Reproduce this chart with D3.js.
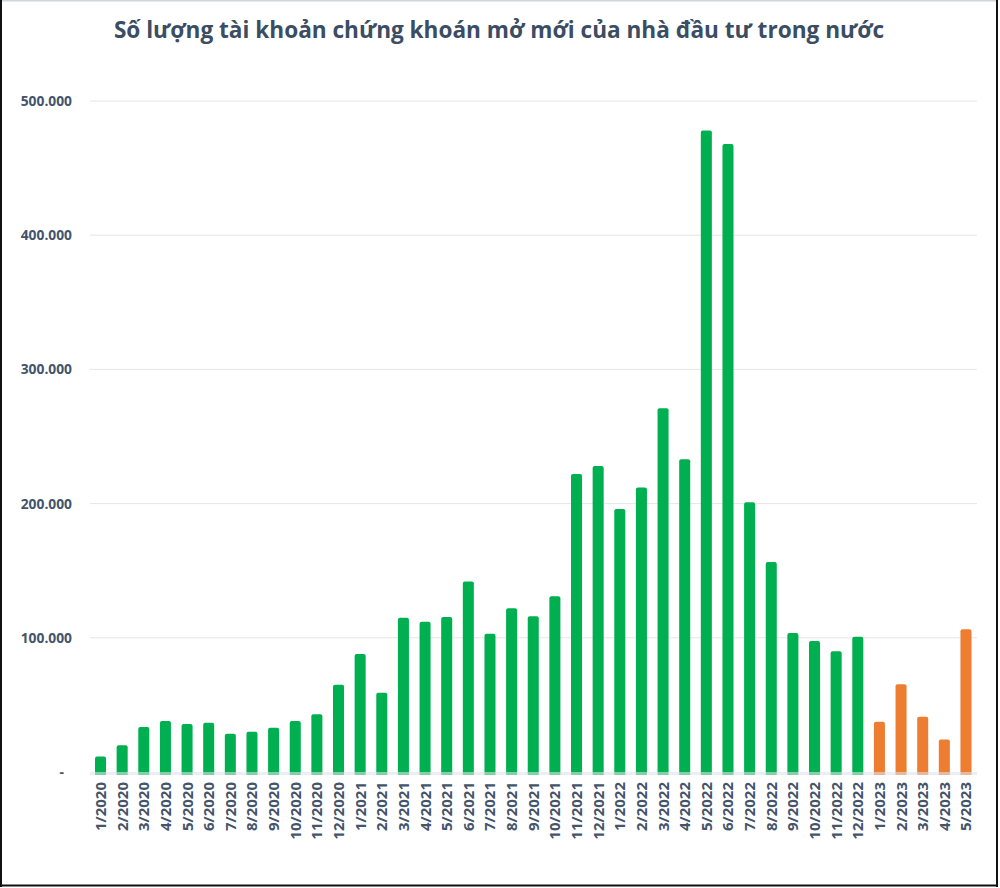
<!DOCTYPE html>
<html>
<head>
<meta charset="utf-8">
<script src="https://cdn.jsdelivr.net/npm/d3@7"></script>
<style>
  html, body { margin: 0; padding: 0; background: #fff; }
  svg { display: block; }
</style>
</head>
<body>
<svg id="chart" width="1000" height="888"></svg>
<script>
const title = "Số lượng tài khoản chứng khoán mở mới của nhà đầu tư trong nước";

const months = [
  "1/2020","2/2020","3/2020","4/2020","5/2020","6/2020","7/2020","8/2020","9/2020","10/2020","11/2020","12/2020",
  "1/2021","2/2021","3/2021","4/2021","5/2021","6/2021","7/2021","8/2021","9/2021","10/2021","11/2021","12/2021",
  "1/2022","2/2022","3/2022","4/2022","5/2022","6/2022","7/2022","8/2022","9/2022","10/2022","11/2022","12/2022",
  "1/2023","2/2023","3/2023","4/2023","5/2023"
];

// new accounts per month
const accounts = [
  11500, 20000, 33500, 38000, 35700, 36700, 28500, 30000, 33000, 38000, 43000, 65000,
  88000, 59000, 115000, 112000, 115500, 142000, 103000, 122000, 116000, 131000, 222000, 228000,
  196000, 212000, 271000, 233000, 478000, 468000, 201000, 156500, 103600, 97600, 90000, 100800,
  37500, 65300, 41200, 24300, 106300
];

const yTicks = [0, 100000, 200000, 300000, 400000, 500000];

const green = "#00b050", orange = "#ed7d31", textColor = "#44546a";

const svg = d3.select("#chart");

// frame
svg.append("rect").attr("x", 0).attr("y", 0).attr("width", 1000).attr("height", 888).attr("fill", "#fff");
svg.append("line").attr("x1", 0).attr("x2", 998).attr("y1", 0.5).attr("y2", 0.5).attr("stroke", "#d0d5da").attr("stroke-width", 2);
svg.append("line").attr("x1", 1).attr("x2", 1).attr("y1", 0).attr("y2", 887).attr("stroke", "#111").attr("stroke-width", 2);
svg.append("line").attr("x1", 997).attr("x2", 997).attr("y1", 0).attr("y2", 887).attr("stroke", "#111").attr("stroke-width", 2);
svg.append("line").attr("x1", 0).attr("x2", 998).attr("y1", 885.5).attr("y2", 885.5).attr("stroke", "#111").attr("stroke-width", 2);

svg.append("text")
  .attr("x", 499).attr("y", 38)
  .attr("text-anchor", "middle")
  .attr("font-family", "Open Sans, sans-serif")
  .attr("font-weight", "bold")
  .attr("font-size", 22.6)
  .attr("fill", "#3b4d63")
  .text(title);

const x = d3.scaleBand().domain(months).range([89.7, 976.8]).paddingInner(0.49).paddingOuter(0.245);
const y = d3.scaleLinear().domain([0, 500000]).range([772, 101]);

// grid
svg.append("g").selectAll("line")
  .data(yTicks.slice(1))
  .enter().append("line")
  .attr("x1", 90).attr("x2", 977)
  .attr("y1", d => y(d)).attr("y2", d => y(d))
  .attr("stroke", "#e6e6e6").attr("stroke-width", 1);

// y labels
svg.append("g").selectAll("text")
  .data(yTicks)
  .enter().append("text")
  .attr("x", d => d === 0 ? 64 : 72)
  .attr("y", d => y(d) + 5)
  .attr("text-anchor", "end")
  .attr("font-family", "Open Sans, sans-serif")
  .attr("font-weight", "bold")
  .attr("font-size", 13.8)
  .attr("fill", textColor)
  .text(d => d === 0 ? "-" : d3.format(",")(d).replace(/,/g, "."));

// bars
svg.append("g").selectAll("path")
  .data(months)
  .enter().append("path")
  .attr("fill", d => d.endsWith("2023") ? orange : green)
  .attr("d", (d, i) => {
    const x0 = x(d), w = x.bandwidth(), top = y(accounts[i]), bot = y(0) + 3, r = 2;
    return `M${x0},${bot}V${top + r}Q${x0},${top} ${x0 + r},${top}H${x0 + w - r}Q${x0 + w},${top} ${x0 + w},${top + r}V${bot}Z`;
  });

// axis line (semi-transparent over bar bottoms)
svg.append("line")
  .attr("x1", 90).attr("x2", 977)
  .attr("y1", y(0) + 1.5).attr("y2", y(0) + 1.5)
  .attr("stroke", "#dde3ea").attr("stroke-opacity", 0.6).attr("stroke-width", 3);

// x labels
svg.append("g").selectAll("text")
  .data(months)
  .enter().append("text")
  .attr("transform", d => `translate(${x(d) + x.bandwidth() / 2 + 5.5},782) rotate(-90)`)
  .attr("text-anchor", "end")
  .attr("font-family", "Open Sans, sans-serif")
  .attr("font-weight", "bold")
  .attr("font-size", 15)
  .attr("fill", textColor)
  .text(d => d);
</script>
</body>
</html>
